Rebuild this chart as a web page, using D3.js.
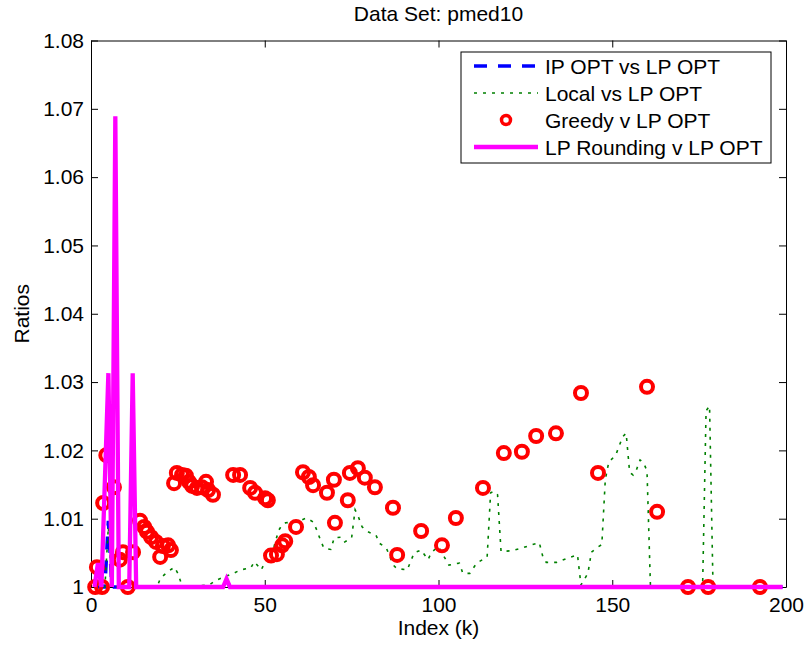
<!DOCTYPE html>
<html>
<head>
<meta charset="utf-8">
<script src="https://cdn.jsdelivr.net/npm/d3@7"></script>
<style>
  body { margin: 0; background: #fff; }
  text { font-family: "Liberation Sans", Arial, Helvetica, sans-serif; fill: #000; }
</style>
</head>
<body>
<svg id="chart" width="807" height="649"></svg>
<script>
// ---- data -------------------------------------------------------------
const chartTitle = "Data Set: pmed10";
const xLabel = "Index (k)";
const yLabel = "Ratios";
const xTicks = [0, 50, 100, 150, 200];
const yTicks = [1, 1.01, 1.02, 1.03, 1.04, 1.05, 1.06, 1.07, 1.08];
const yTickLabels = ["1", "1.01", "1.02", "1.03", "1.04", "1.05", "1.06", "1.07", "1.08"];
const seriesNames = ["IP OPT vs LP OPT", "Local vs LP OPT", "Greedy v LP OPT", "LP Rounding v LP OPT"];

// [k, ratio] pairs
const ipOpt = [
  [1, 1], [4, 1], [5, 1.0097], [6, 1], [38, 1], [39, 1.0010], [40, 1], [199, 1]
];

const localSearch = [
  [1, 1], [4, 1], [5, 1.0088], [6, 1], [19, 1], [20, 1.0013], [22, 1.0022], [24, 1.0029],
  [25, 1.0020], [26, 1.0005], [27, 1], [34, 1.0003], [36, 1.0010], [41, 1.0020], [43, 1.0025],
  [46, 1.0028], [47, 1.0037], [49, 1.0025], [51, 1.0047], [52, 1.0047], [54, 1.0083],
  [55, 1.0091], [56, 1.0094], [59, 1.0095], [62, 1.0101], [64, 1.0095], [65, 1.0083],
  [66, 1.0069], [67, 1.0057], [69, 1.0055], [70, 1.0072], [72, 1.0073], [73, 1.0066],
  [75, 1.0072], [76, 1.0113], [77, 1.0102], [78, 1.0088], [80, 1.0080], [82, 1.0076],
  [83, 1.0064], [85, 1.0057], [87, 1.0032], [88, 1.0027], [91, 1.0025], [93, 1.0050],
  [95, 1.0054], [97, 1.0040], [98, 1.0051], [100, 1.0059], [103, 1.0032], [106, 1.0035],
  [107, 1.0020], [109, 1.0020], [111, 1.0035], [114, 1.0044], [115, 1.0138], [116, 1.0140],
  [117, 1.0135], [118, 1.0052], [121, 1.0053], [124, 1.0057], [127, 1.0062], [129, 1.0065],
  [130, 1.0045], [131, 1.0036], [134, 1.0036], [137, 1.0042], [140, 1.0047], [141, 1.0003],
  [143, 1.0020], [144, 1.0051], [146, 1.0059], [147, 1.0062], [148, 1.0157], [149, 1.0183],
  [151, 1.0193], [153, 1.0220], [154, 1.0225], [155, 1.0168], [156, 1.0164], [157, 1.0172],
  [158, 1.0186], [159, 1.0182], [160, 1.0170], [161, 1], [176, 1], [177, 1.0258], [178, 1.0265],
  [179, 1], [199, 1]
];

const greedy = [
  [1.2, 1.0000], [1.7, 1.0029], [3.2, 1.0000], [3.5, 1.0123], [4.4, 1.0193], [6.6, 1.0146],
  [8.3, 1.0040], [9.2, 1.0051], [10.6, 1.0000], [12.1, 1.0051], [14.1, 1.0097], [15.3, 1.0088],
  [16.1, 1.0081], [17.3, 1.0073], [18.7, 1.0066], [19.9, 1.0044], [20.7, 1.0060], [22.2, 1.0061],
  [23.0, 1.0054], [23.9, 1.0152], [24.7, 1.0167], [26.2, 1.0164], [27.3, 1.0163], [28.2, 1.0154],
  [29.1, 1.0148], [30.5, 1.0145], [31.9, 1.0146], [33.1, 1.0154], [33.7, 1.0142], [35.1, 1.0135],
  [40.9, 1.0164], [42.9, 1.0164], [45.8, 1.0145], [47.2, 1.0138], [50.1, 1.0130], [50.9, 1.0127],
  [51.8, 1.0046], [53.5, 1.0048], [55.0, 1.0061], [55.9, 1.0067], [59.0, 1.0088], [61.0, 1.0168],
  [62.7, 1.0161], [63.9, 1.0149], [67.9, 1.0138], [69.9, 1.0157], [70.2, 1.0094], [73.9, 1.0127],
  [74.5, 1.0167], [76.8, 1.0174], [78.8, 1.0160], [81.7, 1.0146], [86.9, 1.0116], [88.1, 1.0047],
  [95.0, 1.0082], [101.0, 1.0061], [105.0, 1.0101], [112.8, 1.0145], [118.8, 1.0196],
  [124.0, 1.0198], [128.1, 1.0221], [133.8, 1.0225], [141.0, 1.0284], [145.9, 1.0167],
  [160.0, 1.0293], [162.9, 1.0110], [171.8, 1.0000], [177.6, 1.0000], [192.5, 1.0000]
];

const lpRounding = [
  [1, 1], [2, 1.0035], [3, 1], [5, 1.0313], [6, 1], [7, 1.0689], [8, 1], [11, 1],
  [12, 1.0313], [13, 1], [38, 1], [39, 1.0012], [40, 1], [199, 1]
];

// ---- layout -----------------------------------------------------------
const plot = { left: 91, right: 786, top: 40.5, bottom: 587 };
const FONT = 21;

const svg = d3.select("#chart");
const x = d3.scaleLinear().domain([0, 200]).range([plot.left, plot.right]);
const y = d3.scaleLinear().domain([1, 1.08]).range([plot.bottom, plot.top]);

// axes box with inward ticks on all four sides
const tickLen = 7;
svg.append("g")
  .attr("transform", `translate(0,${plot.bottom})`)
  .call(d3.axisBottom(x).tickValues(xTicks).tickSizeInner(-tickLen).tickSizeOuter(0).tickPadding(10))
  .call(g => g.selectAll("text").attr("font-size", FONT).attr("font-family", null));
svg.append("g")
  .attr("transform", `translate(0,${plot.top})`)
  .call(d3.axisTop(x).tickValues(xTicks).tickSizeInner(-tickLen).tickSizeOuter(0).tickFormat(""));
svg.append("g")
  .attr("transform", `translate(${plot.left},0)`)
  .call(d3.axisLeft(y).tickValues(yTicks).tickSizeInner(-tickLen).tickSizeOuter(0).tickPadding(7)
    .tickFormat((d, i) => yTickLabels[i]))
  .call(g => g.selectAll("text").attr("font-size", FONT).attr("font-family", null));
svg.append("g")
  .attr("transform", `translate(${plot.right},0)`)
  .call(d3.axisRight(y).tickValues(yTicks).tickSizeInner(-tickLen).tickSizeOuter(0).tickFormat(""));
svg.selectAll(".domain").attr("stroke", "#000").attr("stroke-width", 1);
svg.selectAll(".tick line").attr("stroke", "#000");

// ---- series -----------------------------------------------------------
const line = d3.line().x(d => x(d[0])).y(d => y(d[1]));
const plotG = svg.append("g");

plotG.append("path").datum(ipOpt)
  .attr("d", line).attr("fill", "none")
  .attr("stroke", "#0000ff").attr("stroke-width", 3.5).attr("stroke-dasharray", "13,11");

plotG.append("path").datum(localSearch)
  .attr("d", line).attr("fill", "none")
  .attr("stroke", "#008000").attr("stroke-width", 1.6).attr("stroke-dasharray", "3,6");

plotG.selectAll("circle.greedy").data(greedy).join("circle")
  .attr("class", "greedy")
  .attr("cx", d => x(d[0])).attr("cy", d => y(d[1])).attr("r", 6)
  .attr("fill", "none").attr("stroke", "#ff0000").attr("stroke-width", 4);

plotG.append("path").datum(lpRounding)
  .attr("d", line).attr("fill", "none")
  .attr("stroke", "#ff00ff").attr("stroke-width", 4.3).attr("stroke-linejoin", "miter");

// ---- titles -----------------------------------------------------------
svg.append("text").attr("x", (plot.left + plot.right) / 2).attr("y", 21)
  .attr("text-anchor", "middle").attr("font-size", FONT).text(chartTitle);
svg.append("text").attr("x", (plot.left + plot.right) / 2).attr("y", 635)
  .attr("text-anchor", "middle").attr("font-size", FONT).text(xLabel);
svg.append("text").attr("transform", `translate(29,${(plot.top + plot.bottom) / 2}) rotate(-90)`)
  .attr("text-anchor", "middle").attr("font-size", FONT).text(yLabel);

// ---- legend -----------------------------------------------------------
const legend = svg.append("g");
legend.append("rect").attr("x", 461).attr("y", 52).attr("width", 310).attr("height", 111)
  .attr("fill", "#fff").attr("stroke", "#000").attr("stroke-width", 1);
const rowY = d3.scalePoint().domain(seriesNames).range([66, 147]);
const sampleX0 = 474, sampleX1 = 538;
const styles = [
  { stroke: "#0000ff", width: 3.5, dash: "13,11" },
  { stroke: "#008000", width: 1.6, dash: "3,6" },
  null,
  { stroke: "#ff00ff", width: 4.3, dash: null }
];
seriesNames.forEach((name, i) => {
  const yy = rowY(name);
  if (styles[i]) {
    legend.append("line").attr("x1", sampleX0).attr("x2", sampleX1).attr("y1", yy).attr("y2", yy)
      .attr("stroke", styles[i].stroke).attr("stroke-width", styles[i].width)
      .attr("stroke-dasharray", styles[i].dash);
  } else {
    legend.append("circle").attr("cx", (sampleX0 + sampleX1) / 2).attr("cy", yy).attr("r", 4.5)
      .attr("fill", "none").attr("stroke", "#ff0000").attr("stroke-width", 3.5);
  }
  legend.append("text").attr("x", 545).attr("y", yy).attr("dy", "0.36em")
    .attr("font-size", FONT).text(name);
});
</script>
</body>
</html>
